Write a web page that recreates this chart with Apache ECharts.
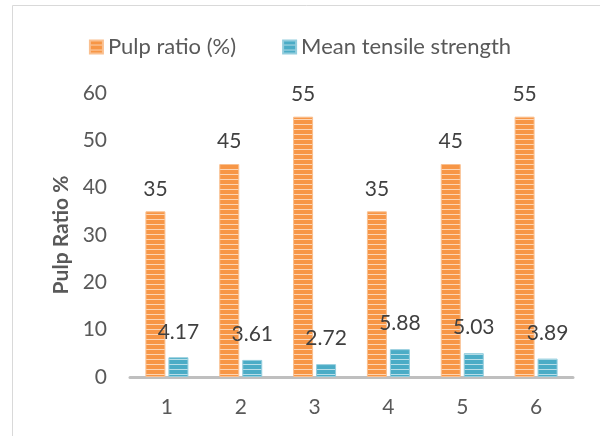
<!DOCTYPE html>
<html><head><meta charset="utf-8">
<script src="https://cdn.jsdelivr.net/npm/echarts@6/dist/echarts.min.js"></script>
<style>html,body{margin:0;padding:0;background:#fff}#c{width:600px;height:436px}</style>
</head><body><div id="c"></div>
<script>
const categories = ['1','2','3','4','5','6'];
const pulpRatio = [35,45,55,35,45,55];
const tensile = [4.17,3.61,2.72,5.88,5.03,3.89];
const seriesNames = ['Pulp ratio (%)','Mean tensile strength'];

function stripe(base, light){
  const c = document.createElement('canvas');
  c.width = 4; c.height = 5;
  const g = c.getContext('2d');
  g.fillStyle = base; g.fillRect(0,0,4,5);
  g.fillStyle = light; g.fillRect(0,4,4,1);
  return {image: c, repeat: 'repeat'};
}
const orangeFill = stripe('#F79646','#FCD5B5');
const blueFill = stripe('#4BACC6','#B7DEE8');
const FONT = 'Lato';
const FS = 21;

const chart = echarts.init(document.getElementById('c'));
chart.setOption({
  animation:false,
  textStyle:{fontFamily:FONT},
  graphic:[{type:'rect',shape:{x:12.5,y:5.5,width:600,height:440},style:{fill:'none',stroke:'#D9D9D9',lineWidth:1}}],
  legend:{top:31,left:'center',itemWidth:13,itemHeight:13,itemGap:46,icon:'rect',
    textStyle:{fontSize:22,color:'#595959',fontFamily:FONT},data:seriesNames},
  grid:{left:130,right:27,top:93,bottom:59},
  xAxis:{type:'category',data:categories,
    axisLine:{lineStyle:{color:'#BFBFBF',width:3}},axisTick:{show:false},
    axisLabel:{fontSize:FS,color:'#595959',margin:20}},
  yAxis:{type:'value',min:0,max:60,interval:10,
    name:'Pulp Ratio %',nameLocation:'middle',nameGap:58,nameRotate:90,
    nameTextStyle:{fontSize:FS,fontWeight:'bold',color:'#595959',fontFamily:FONT},
    axisLine:{show:false},axisTick:{show:false},splitLine:{show:false},
    axisLabel:{fontSize:FS,color:'#595959',margin:23}},
  series:[
    {name:seriesNames[0],type:'bar',data:pulpRatio,barWidth:20,barGap:'15%',
     itemStyle:{color:orangeFill,borderColor:'#FAC090',borderWidth:1},
     label:{show:true,position:'top',distance:12,fontSize:FS,color:'#404040'}},
    {name:seriesNames[1],type:'bar',data:tensile,barWidth:20,
     itemStyle:{color:blueFill,borderColor:'#93CDDD',borderWidth:1},
     label:{show:true,position:'top',distance:15,fontSize:FS,color:'#404040'}}
  ]
});
</script></body></html>
